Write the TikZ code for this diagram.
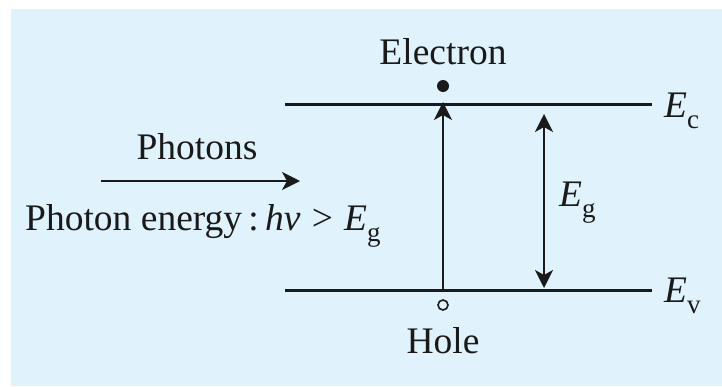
\documentclass[tikz,border=0pt]{standalone}
\usepackage{fontspec}
\setmainfont{Liberation Serif}
\usetikzlibrary{arrows.meta}
\definecolor{bgblue}{HTML}{E0F2FC}
\definecolor{ink}{HTML}{1A1A1A}
\newcommand{\lowsub}[1]{\raisebox{-0.3em}{\fontsize{27}{30}\selectfont #1}}
\tikzset{
  lbl/.style={font=\fontsize{37.5}{42}\selectfont, inner sep=0pt, text=ink},
  level/.style={draw=ink, line width=3pt},
  headtip/.style={arrows={-Stealth[length=18pt 0, width=18pt 0, inset=5pt 0]}},
  tr/.style={draw=ink, line width=1.8pt, headtip},
  dbl/.style={draw=ink, line width=1.8pt, arrows={Stealth[length=18pt 0, width=18pt 0, inset=5pt 0]-Stealth[length=18pt 0, width=18pt 0, inset=5pt 0]}},
}
\begin{document}
\begin{tikzpicture}[x=1pt,y=-1pt]
\useasboundingbox (0,0) rectangle (722,386);
\fill[bgblue] (11,9) rectangle (722,386);
% levels
\coordinate (ecL) at (285,104);
\coordinate (ecR) at (652,104);
\coordinate (evL) at (285,290);
\coordinate (evR) at (652,290);
\draw[level] (ecL) -- (ecR);
\draw[level] (evL) -- (evR);
% transition
\coordinate (tb) at (443,290);
\coordinate (tt) at (443,102);
\draw[tr] (tb) -- (tt);
\node[circle, fill=ink, inner sep=0pt, minimum size=12pt] (el) at (443,86) {};
\node[circle, draw=ink, line width=1.6pt, fill=bgblue, inner sep=0pt, minimum size=10pt] (ho) at (443,305) {};
\node[lbl, anchor=base] (electron) at (443,64) {Electron};
\node[lbl, anchor=base] (hole) at (443,353) {Hole};
% gap
\coordinate (gt) at (544,114);
\coordinate (gb) at (544,288);
\draw[dbl] (gb) -- (gt);
\node[lbl, anchor=base west] (eg) at (559,206) {\textit{E}\lowsub{g}};
\node[lbl, anchor=base west] (ec) at (664,117) {\textit{E}\lowsub{c}};
\node[lbl, anchor=base west] (ev) at (664,302) {\textit{E}\lowsub{v}};
% photons
\coordinate (pa) at (101,181);
\coordinate (pb) at (300,181);
\draw[tr] (pa) -- (pb);
\node[lbl, anchor=base] (photons) at (197,159) {Photons};
\node[lbl, anchor=base west] (pen) at (25,230) {Photon energy\,:\,\textit{hv}\hspace{0.3em}>\hspace{0.3em}\textit{E}\lowsub{g}};
\end{tikzpicture}
\end{document}
